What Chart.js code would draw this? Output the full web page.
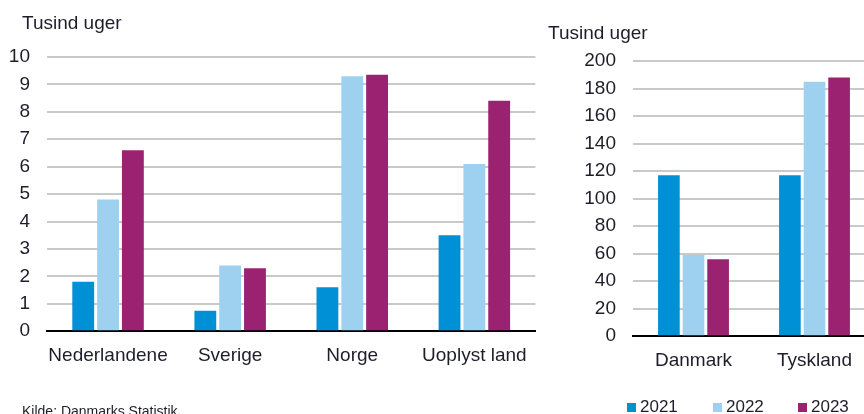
<!DOCTYPE html>
<html>
<head>
<meta charset="utf-8">
<script src="https://cdn.jsdelivr.net/npm/chart.js@4.4.1/dist/chart.umd.min.js"></script>
<style>
  html, body { margin: 0; padding: 0; background: #fff; width: 864px; height: 414px; overflow: hidden; position: relative; font-family: "Liberation Sans", Arial, sans-serif; }
  .box { position: absolute; }
  .txt { position: absolute; color: #1e1e2a; white-space: nowrap; }
  .leg { position: absolute; display: flex; align-items: center; font-size: 17px; color: #1e1e2a; }
  .leg span.sq { display: inline-block; width: 9px; height: 9px; margin-right: 4px; }
</style>
</head>
<body>
<div class="box" style="left:0;top:0;width:540px;height:414px;"><canvas id="c1"></canvas></div>
<div class="box" style="left:540px;top:0;width:360px;height:414px;"><canvas id="c2"></canvas></div>
<div class="txt" style="left:22px;top:12px;font-size:19px;">Tusind uger</div>
<div class="txt" style="left:548px;top:22px;font-size:19px;">Tusind uger</div>
<div class="txt" style="left:22px;top:403px;font-size:14px;">Kilde: Danmarks Statistik</div>
<div id="legend"></div>
<script>
const seriesLabels = ["2021", "2022", "2023"];
const seriesColors = ["#0090d6", "#9dd1ef", "#9a2270"];

const leftCategories = ["Nederlandene", "Sverige", "Norge", "Uoplyst land"];
const left2021 = [1.8, 0.75, 1.6, 3.5];
const left2022 = [4.8, 2.4, 9.3, 6.1];
const left2023 = [6.6, 2.3, 9.35, 8.4];

const rightCategories = ["Danmark", "Tyskland"];
const right2021 = [117, 117];
const right2022 = [59, 185];
const right2023 = [56, 188];

const FONT = "'Liberation Sans', Arial, sans-serif";
const TEXT = "#1e1e2a";

function makeDatasets(arrs) {
  return arrs.map((d, i) => ({
    label: seriesLabels[i],
    data: d,
    backgroundColor: seriesColors[i],
    borderWidth: 0,
    categoryPercentage: 0.61,
    barPercentage: 0.88
  }));
}

function makeOptions(yMax, yStep, yWidth, padTop, padBottom, padRight) {
  return {
    responsive: false,
    animation: false,
    maintainAspectRatio: false,
    layout: { padding: { top: padTop, bottom: padBottom, left: 0, right: padRight } },
    plugins: { legend: { display: false }, tooltip: { enabled: false } },
    scales: {
      x: {
        grid: { display: false, drawTicks: false },
        border: { display: true, color: "#000", width: 2 },
        ticks: { color: TEXT, font: { family: FONT, size: 19 }, padding: 13, maxRotation: 0, autoSkip: false }
      },
      y: {
        min: 0, max: yMax,
        afterFit: (s) => { s.width = yWidth; },
        grid: { color: (ctx) => ctx.tick && ctx.tick.value === 0 ? "rgba(0,0,0,0)" : "#c9c9c9", lineWidth: 2, drawTicks: false },
        border: { display: false },
        ticks: { stepSize: yStep, color: TEXT, font: { family: FONT, size: 19 }, padding: 17 }
      }
    }
  };
}

const c1 = document.getElementById("c1");
c1.width = 540; c1.height = 414;
new Chart(c1, {
  type: "bar",
  data: { labels: leftCategories, datasets: makeDatasets([left2021, left2022, left2023]) },
  options: makeOptions(10, 1, 47, 57, 34, 3)
});

const c2 = document.getElementById("c2");
c2.width = 360; c2.height = 414;
new Chart(c2, {
  type: "bar",
  data: { labels: rightCategories, datasets: makeDatasets([right2021, right2022, right2023]) },
  options: makeOptions(200, 20, 93, 61, 29, 25)
});

const legend = document.getElementById("legend");
const legendX = [627, 713, 798];
seriesLabels.forEach((lab, i) => {
  const d = document.createElement("div");
  d.className = "leg";
  d.style.left = legendX[i] + "px";
  d.style.top = "397px";
  d.innerHTML = '<span class="sq" style="background:' + seriesColors[i] + '"></span>' + lab;
  legend.appendChild(d);
});
</script>
</body>
</html>
